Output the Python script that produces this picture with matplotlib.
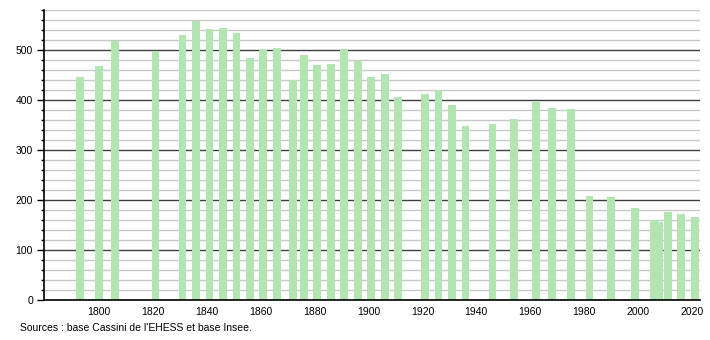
import matplotlib.pyplot as plt
from matplotlib.ticker import MultipleLocator

plt.rcParams['font.family'] = ['Liberation Sans', 'DejaVu Sans']

# census years and population
years = [1793, 1800, 1806, 1821, 1831, 1836, 1841, 1846, 1851, 1856,
         1861, 1866, 1872, 1876, 1881, 1886, 1891, 1896, 1901, 1906,
         1911, 1921, 1926, 1931, 1936, 1946, 1954, 1962, 1968, 1975,
         1982, 1990, 1999, 2006, 2008, 2011, 2016, 2021]
population = [447, 468, 519, 499, 531, 559, 542, 544, 535, 484,
              502, 504, 440, 490, 470, 473, 502, 479, 446, 452,
              406, 412, 420, 390, 348, 352, 362, 396, 385, 382,
              209, 206, 184, 160, 156, 177, 173, 166]
xtick_years = list(range(1800, 2021, 20))
source_text = "Sources : base Cassini de l'EHESS et base Insee."

fig = plt.figure(figsize=(7.1, 3.4), dpi=100)
ax = fig.add_axes([44 / 710, 40 / 340, 656 / 710, 290 / 340])

ax.bar(years, population, width=2.9, color='#b2e5b2', zorder=2)

ax.set_xlim(1779.6, 2023)
ax.set_ylim(0, 580)
ax.set_xticks(xtick_years)
ax.yaxis.set_major_locator(MultipleLocator(100))
ax.yaxis.set_minor_locator(MultipleLocator(20))

ax.grid(axis='y', which='minor', color='#c8c8c8', linewidth=1.0, zorder=0)
ax.grid(axis='y', which='major', color='#404040', linewidth=1.0, zorder=1)
ax.set_axisbelow(True)

for side in ['top', 'right']:
    ax.spines[side].set_visible(False)
ax.spines['left'].set_linewidth(1.2)
ax.spines['bottom'].set_linewidth(1.2)

ax.tick_params(axis='y', which='major', length=5, width=1, labelsize=7.5, pad=3)
ax.tick_params(axis='y', which='minor', length=2.5, width=1)
ax.tick_params(axis='x', which='major', length=0, labelsize=7.5, pad=5)

fig.text(20 / 710, 1 - 328 / 340, source_text, fontsize=7.5, va='center', ha='left')

fig.savefig('out.png', dpi=100)
